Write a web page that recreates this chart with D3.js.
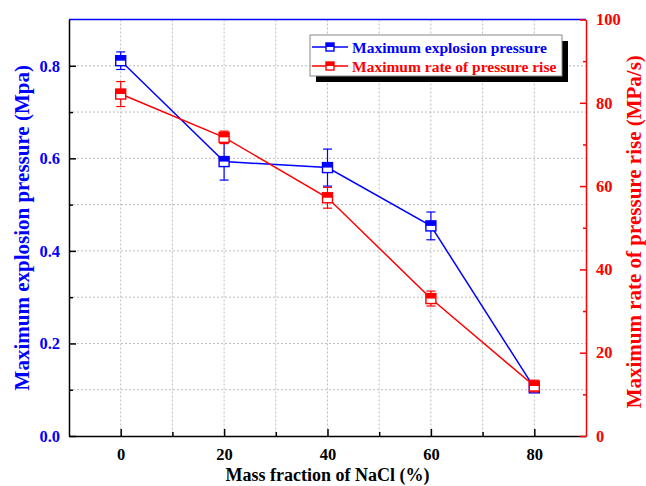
<!DOCTYPE html>
<html lang="en">
<head>
  <meta charset="UTF-8">
  <title>NaCl explosion pressure</title>
  <script src="https://d3js.org/d3.v7.min.js"></script>
  <style>
    body { margin: 0; background: #fff; }
    text { font-family: "Liberation Serif", "Times New Roman", serif; font-weight: bold; }
  </style>
</head>
<body>
  <div id="canvas"></div>
  <script>
    // data
    const nacl = [0, 20, 40, 60, 80];
    const pmax = [0.811, 0.593, 0.580, 0.454, 0.104];
    const pmaxErr = [0.019, 0.04, 0.04, 0.03, 0.009];
    const rate = [82.1, 71.7, 57.2, 33.0, 12.0];
    const rateErr = [3.0, 1.5, 2.5, 1.8, 1.4];
    const xTicks = [0, 20, 40, 60, 80];
    const leftTicks = [0, 0.2, 0.4, 0.6, 0.8];
    const rightTicks = [0, 20, 40, 60, 80, 100];

    const width = 646;
    const height = 486;
    const pLeft = 69, pRight = 586, pTop = 19.5, pBottom = 436;
    const blue = '#0000ff';
    const red = '#ff0000';

    const x = d3.scaleLinear().domain([-10, 90]).range([pLeft, pRight]);
    const yL = d3.scaleLinear().domain([0, 0.9]).range([pBottom, pTop]);
    const yR = d3.scaleLinear().domain([0, 100]).range([pBottom, pTop]);

    const svg = d3.select('#canvas')
      .append('svg')
      .attr('width', width)
      .attr('height', height);

    // grid
    const grid = svg.append('g').attr('stroke', '#bdbdbd').attr('stroke-dasharray', '2,2');
    d3.range(0, 81, 10).forEach(v => {
      grid.append('line').attr('x1', x(v)).attr('x2', x(v)).attr('y1', pTop).attr('y2', pBottom);
    });
    d3.range(1, 9).forEach(i => {
      grid.append('line').attr('x1', pLeft).attr('x2', pRight).attr('y1', yL(i / 10)).attr('y2', yL(i / 10));
    });

    // bottom axis
    const xAxis = d3.axisBottom(x).tickValues(xTicks).tickSizeInner(-7).tickSizeOuter(0).tickPadding(12);
    const gx = svg.append('g')
      .attr('transform', 'translate(0,' + pBottom + ')')
      .call(xAxis);
    gx.select('.domain').attr('stroke', '#000').attr('stroke-width', 1.5);
    gx.selectAll('.tick line').attr('stroke', '#000').attr('stroke-width', 1.5);
    gx.selectAll('.tick text').style('font-size', '16.5px').attr('fill', '#000');
    const xMinor = d3.axisBottom(x).tickValues([10, 30, 50, 70]).tickSize(-4).tickFormat('');
    svg.append('g').attr('transform', 'translate(0,' + pBottom + ')').call(xMinor)
      .call(g => g.select('.domain').remove())
      .selectAll('line').attr('stroke', '#000').attr('stroke-width', 1.5);

    // left axis
    const yAxis = d3.axisLeft(yL).tickValues(leftTicks).tickFormat(d3.format('.1f'))
      .tickSizeInner(-7).tickSizeOuter(0).tickPadding(9);
    const gy = svg.append('g')
      .attr('transform', 'translate(' + pLeft + ',0)')
      .call(yAxis);
    gy.select('.domain').attr('stroke', '#000').attr('stroke-width', 1.5);
    gy.selectAll('.tick line').attr('stroke', '#000').attr('stroke-width', 1.5);
    gy.selectAll('.tick text').style('font-size', '16.5px').attr('fill', blue);
    const yMinor = d3.axisLeft(yL).tickValues([0.1, 0.3, 0.5, 0.7]).tickSize(-4).tickFormat('');
    svg.append('g').attr('transform', 'translate(' + pLeft + ',0)').call(yMinor)
      .call(g => g.select('.domain').remove())
      .selectAll('line').attr('stroke', '#000').attr('stroke-width', 1.5);

    // top border (blue)
    svg.append('line')
      .attr('x1', pLeft).attr('x2', pRight).attr('y1', pTop).attr('y2', pTop)
      .attr('stroke', blue).attr('stroke-width', 1.5);

    // right axis
    const yAxisR = d3.axisRight(yR).tickValues(rightTicks)
      .tickSizeInner(-6).tickSizeOuter(0).tickPadding(10);
    const gr = svg.append('g')
      .attr('transform', 'translate(' + pRight + ',0)')
      .call(yAxisR);
    gr.select('.domain').attr('stroke', red).attr('stroke-width', 1.5);
    gr.selectAll('.tick line').attr('stroke', red).attr('stroke-width', 1.5);
    gr.selectAll('.tick text').style('font-size', '16.5px').attr('fill', red);
    const yMinorR = d3.axisRight(yR).tickValues([10, 30, 50, 70, 90]).tickSize(-3).tickFormat('');
    svg.append('g').attr('transform', 'translate(' + pRight + ',0)').call(yMinorR)
      .call(g => g.select('.domain').remove())
      .selectAll('line').attr('stroke', red).attr('stroke-width', 1.5);

    // axis titles
    svg.append('text')
      .attr('transform', 'translate(22,' + ((pTop + pBottom) / 2) + ') rotate(-90)')
      .attr('text-anchor', 'middle')
      .attr('dominant-baseline', 'central')
      .attr('fill', blue)
      .style('font-size', '21px')
      .text('Maximum explosion pressure (Mpa)');
    svg.append('text')
      .attr('transform', 'translate(634,' + ((pTop + pBottom) / 2 + 4) + ') rotate(-90)')
      .attr('text-anchor', 'middle')
      .attr('dominant-baseline', 'central')
      .attr('fill', red)
      .style('font-size', '21px')
      .text('Maximum rate of pressure rise (MPa/s)');
    svg.append('text')
      .attr('x', (pLeft + pRight) / 2)
      .attr('y', 481)
      .attr('text-anchor', 'middle')
      .attr('fill', '#000')
      .style('font-size', '18px')
      .text('Mass fraction of NaCl (%)');

    // series
    function drawMarker(g, cx, cy, color, s) {
      g.append('rect').attr('x', cx - s / 2).attr('y', cy - s / 2).attr('width', s).attr('height', s)
        .attr('fill', '#fff').attr('stroke', color).attr('stroke-width', 1.4);
      g.append('rect').attr('x', cx - s / 2).attr('y', cy - s / 2).attr('width', s).attr('height', s * 0.5)
        .attr('fill', color);
    }

    function drawSeries(vals, errs, yScale, color) {
      const g = svg.append('g');
      const line = d3.line().x((d, i) => x(nacl[i])).y(d => yScale(d));
      g.append('path').datum(vals).attr('d', line)
        .attr('fill', 'none').attr('stroke', color).attr('stroke-width', 1.5);
      vals.forEach((v, i) => {
        const cx = x(nacl[i]);
        const y1 = yScale(v + errs[i]);
        const y2 = yScale(v - errs[i]);
        g.append('line').attr('x1', cx).attr('x2', cx).attr('y1', y1).attr('y2', y2)
          .attr('stroke', color).attr('stroke-width', 1.2);
        [y1, y2].forEach(yy => {
          g.append('line').attr('x1', cx - 4.5).attr('x2', cx + 4.5).attr('y1', yy).attr('y2', yy)
            .attr('stroke', color).attr('stroke-width', 1.2);
        });
        drawMarker(g, cx, yScale(v), color, 10);
      });
    }

    drawSeries(pmax, pmaxErr, yL, blue);
    drawSeries(rate, rateErr, yR, red);

    // legend
    const legend = svg.append('g').attr('transform', 'translate(310,35)');
    legend.append('rect').attr('x', 6).attr('y', 6).attr('width', 252).attr('height', 41).attr('fill', '#000');
    legend.append('rect').attr('x', 0).attr('y', 0).attr('width', 252).attr('height', 41)
      .attr('fill', '#fff').attr('stroke', '#888').attr('stroke-width', 1);
    const entries = [['Maximum explosion pressure', blue], ['Maximum rate of pressure rise', red]];
    entries.forEach((e, i) => {
      const yy = 12 + i * 19;
      legend.append('line').attr('x1', 2).attr('x2', 38).attr('y1', yy).attr('y2', yy)
        .attr('stroke', e[1]).attr('stroke-width', 1.5);
      drawMarker(legend, 20, yy, e[1], 8);
      legend.append('text').attr('x', 42).attr('y', yy)
        .attr('dominant-baseline', 'central')
        .attr('fill', e[1])
        .style('font-size', '15.5px')
        .text(e[0]);
    });
  </script>
</body>
</html>
